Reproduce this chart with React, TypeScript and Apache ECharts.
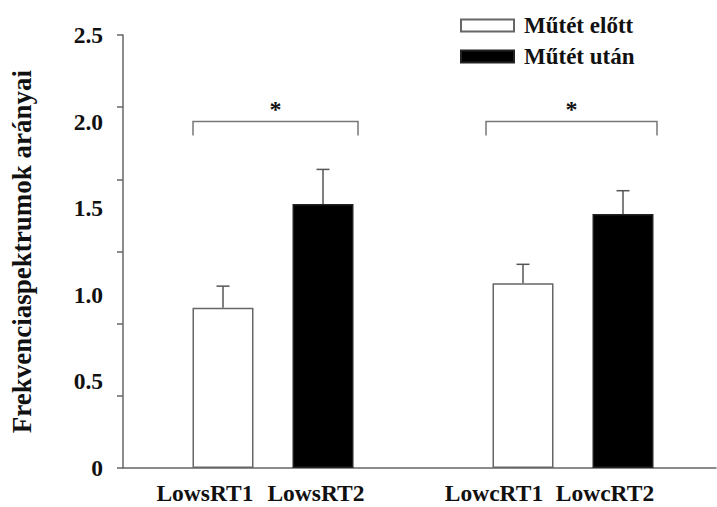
import React, { useEffect, useRef } from "react";
import * as echarts from "echarts";

const categories = ["LowsRT1", "LowsRT2", "LowcRT1", "LowcRT2"];
const xPositions = [1, 2, 4, 5];
const groups = ["Műtét előtt", "Műtét után", "Műtét előtt", "Műtét után"];
const means = [0.925, 1.524, 1.066, 1.466];
const sems = [0.125, 0.2, 0.11, 0.135];
const yTickLabels = ["0", "0.5", "1.0", "1.5", "2.0", "2.5"];
// significance brackets: [xStart, xEnd, yTop, yLegEnd]
const brackets = [
  [0.7, 2.35, 2.0, 1.92],
  [3.63, 5.34, 2.0, 1.92],
];
const labelShift = [36, 14, 58, 36];

const FONT = "'Liberation Serif', 'Times New Roman', serif";

export default function App() {
  const ref = useRef<HTMLDivElement>(null);
  useEffect(() => {
    if (!ref.current) return;
    const chart = echarts.init(ref.current, null, { renderer: "svg" });

    const seriesData = (name: string) =>
      categories
        .map((_, i) => i)
        .filter((i) => groups[i] === name)
        .map((i) => [xPositions[i], means[i]]);

    const rich: Record<string, any> = {};
    categories.forEach((_, i) => {
      rich["l" + i] = {
        fontFamily: FONT,
        fontWeight: "bold",
        fontSize: 23.5,
        color: "#111",
        padding: [0, labelShift[i], 0, 0],
      };
    });

    const option: any = {
      animation: false,
      backgroundColor: "#fff",
      grid: { left: 123, right: 1, top: 35, bottom: 39, containLabel: false },
      legend: {
        orient: "vertical",
        left: 455,
        top: 9,
        itemWidth: 53,
        itemHeight: 12,
        itemGap: 8,
        icon: "rect",
        data: ["Műtét előtt", "Műtét után"],
        textStyle: {
          fontFamily: FONT,
          fontWeight: "bold",
          fontSize: 23,
          color: "#111",
          lineHeight: 22,
          padding: [0, 0, 0, 5],
        },
      },
      xAxis: {
        type: "value",
        min: 0,
        max: 5.93,
        interval: 1,
        axisLine: { show: true, lineStyle: { color: "#666", width: 1.5 } },
        axisTick: { show: false },
        splitLine: { show: false },
        axisLabel: {
          margin: 13,
          showMaxLabel: false,
          formatter: (v: number) => {
            const i = xPositions.indexOf(Math.round(v * 1000) / 1000);
            return i >= 0 ? `{l${i}|${categories[i]}}` : "";
          },
          rich,
        },
      },
      yAxis: [
        {
          type: "value",
          min: 0,
          max: 2.5,
          interval: 0.5,
          position: "left",
          name: "Frekvenciaspektrumok arányai",
          nameLocation: "middle",
          nameGap: 88,
          nameTextStyle: {
            fontFamily: FONT,
            fontWeight: "bold",
            fontSize: 27,
            color: "#111",
          },
          axisLine: { show: true, lineStyle: { color: "#666", width: 1.5 } },
          axisTick: { show: false },
          splitLine: { show: false },
          axisLabel: {
            margin: 20,
            fontFamily: FONT,
            fontWeight: "bold",
            fontSize: 23.5,
            color: "#111",
            formatter: (v: number) => yTickLabels[Math.round(v / 0.5)] ?? "",
          },
        },
        {
          type: "value",
          min: 0,
          max: 2.5,
          interval: 2.5 / 6,
          position: "left",
          axisLine: { show: false },
          axisTick: {
            show: true,
            inside: false,
            length: 6,
            lineStyle: { color: "#666", width: 1.5 },
          },
          axisLabel: { show: false },
          splitLine: { show: false },
        },
      ],
      series: [
        {
          name: "Műtét előtt",
          type: "bar",
          barWidth: 61,
          barGap: "-100%",
          data: seriesData("Műtét előtt"),
          itemStyle: { color: "#fff", borderColor: "#666", borderWidth: 1.5 },
        },
        {
          name: "Műtét után",
          type: "bar",
          barWidth: 61,
          barGap: "-100%",
          data: seriesData("Műtét után"),
          itemStyle: { color: "#000", borderColor: "#222", borderWidth: 1.5 },
        },
        {
          name: "err",
          type: "custom",
          z: 5,
          data: categories.map((_, i) => [xPositions[i], means[i], means[i] + sems[i]]),
          renderItem: (params: any, api: any) => {
            const p1 = api.coord([api.value(0), api.value(1)]);
            const p2 = api.coord([api.value(0), api.value(2)]);
            const style = { stroke: "#555", lineWidth: 1.5 };
            return {
              type: "group",
              children: [
                { type: "line", shape: { x1: p1[0], y1: p1[1], x2: p2[0], y2: p2[1] }, style },
                { type: "line", shape: { x1: p2[0] - 6.5, y1: p2[1], x2: p2[0] + 6.5, y2: p2[1] }, style },
              ],
            };
          },
        },
        {
          name: "sig",
          type: "custom",
          z: 5,
          data: brackets,
          renderItem: (params: any, api: any) => {
            const a = api.coord([api.value(0), api.value(3)]);
            const b = api.coord([api.value(0), api.value(2)]);
            const c = api.coord([api.value(1), api.value(2)]);
            const d = api.coord([api.value(1), api.value(3)]);
            const style = { stroke: "#777", lineWidth: 1.5, fill: "none" };
            return {
              type: "group",
              children: [
                { type: "polyline", shape: { points: [a, b, c, d] }, style },
                {
                  type: "text",
                  x: (b[0] + c[0]) / 2,
                  y: b[1] - 13,
                  style: {
                    text: "*",
                    font: `bold 24px ${FONT}`,
                    fill: "#111",
                    align: "center",
                    verticalAlign: "middle",
                  },
                },
              ],
            };
          },
        },
      ],
    };
    chart.setOption(option);
    return () => chart.dispose();
  }, []);

  return (
    <div
      ref={ref}
      style={{ position: "fixed", left: 0, top: 0, width: 717, height: 507, background: "#fff" }}
    />
  );
}
